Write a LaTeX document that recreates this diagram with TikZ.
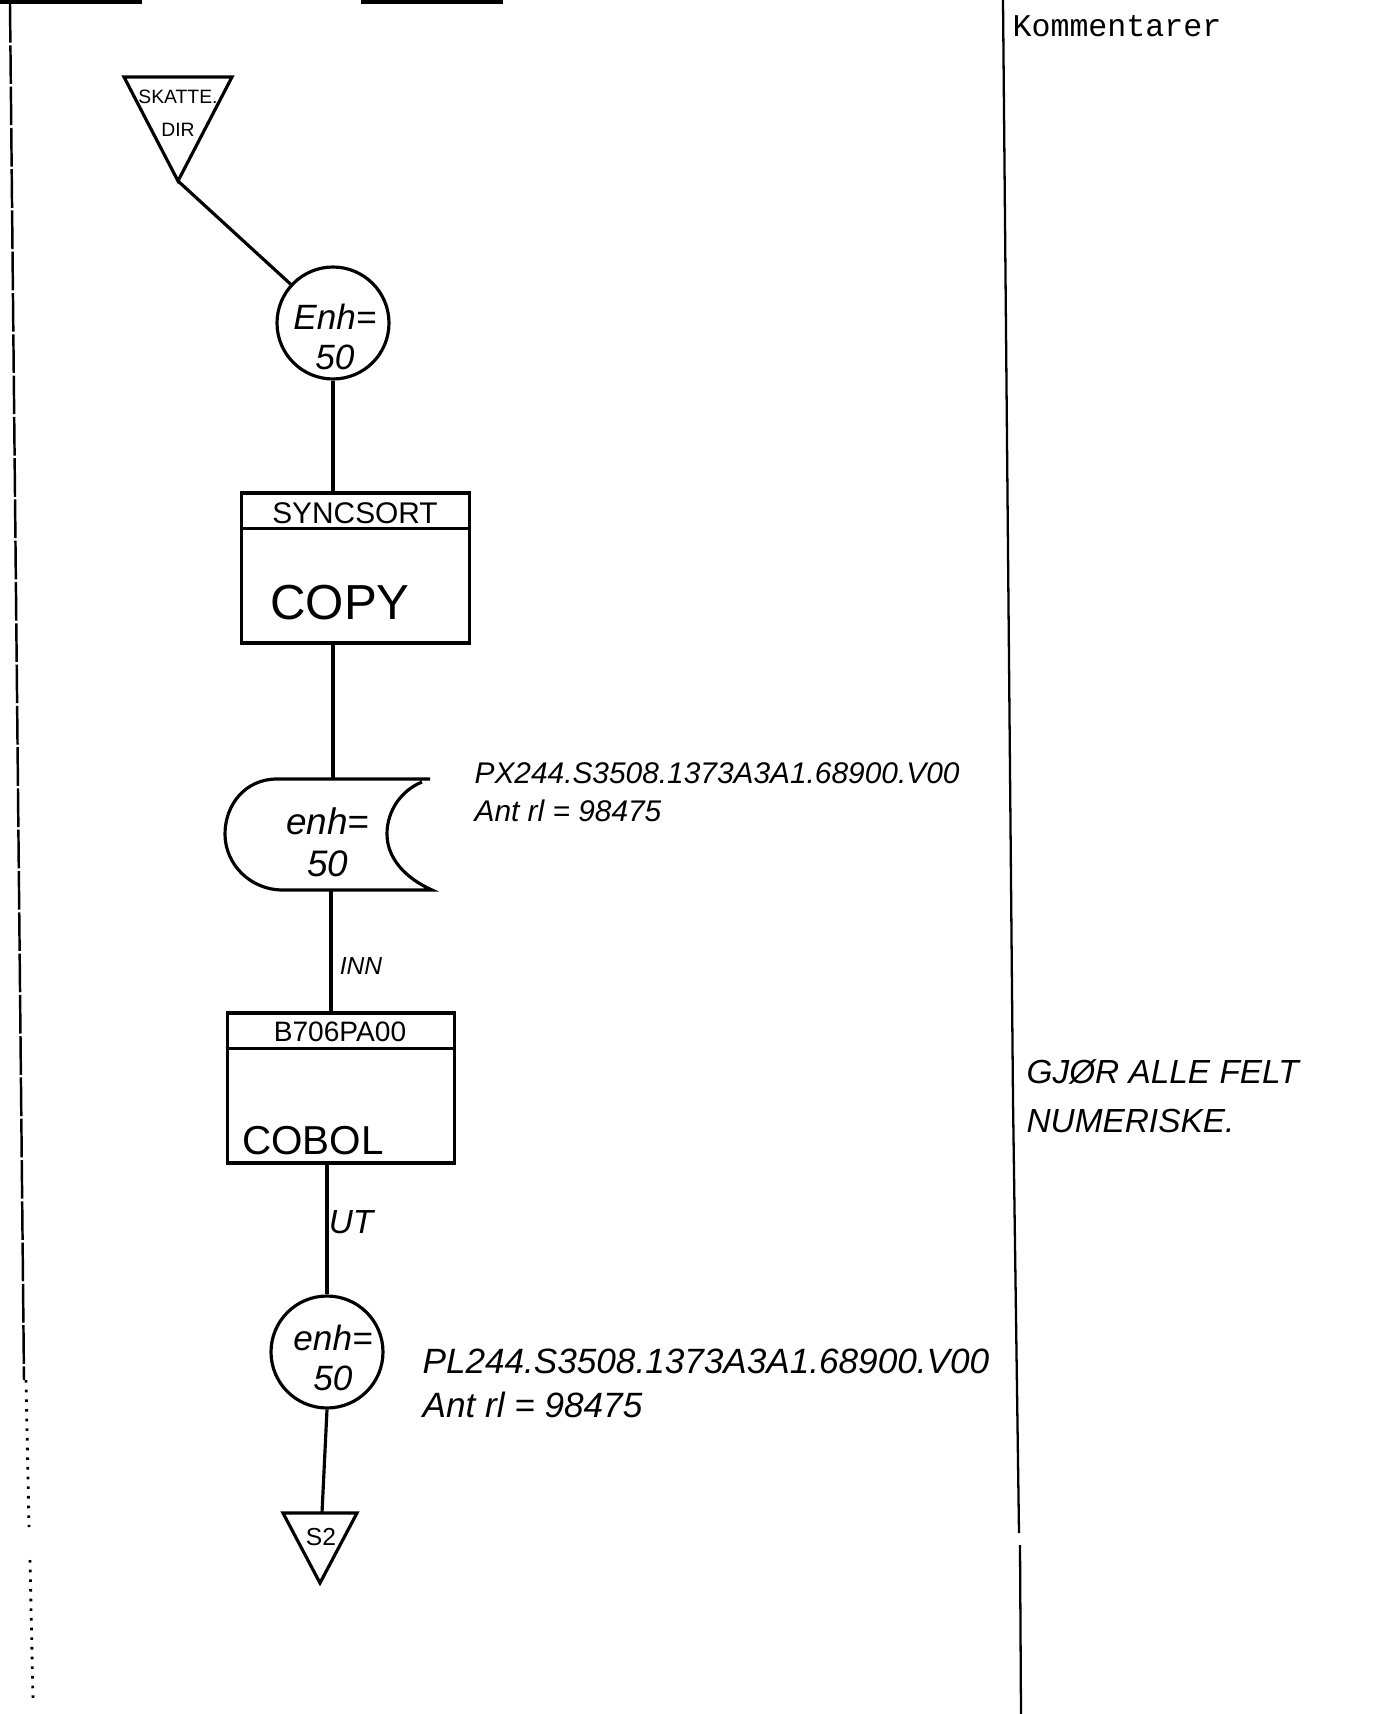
\documentclass[tikz,border=0pt]{standalone}
\usepackage{fontspec}
\setmainfont{Liberation Sans}
\setmonofont{Liberation Mono}
\begin{document}
\begin{tikzpicture}[
    x=0.02cm, y=-0.02cm,
    line width=1.8pt,
    hand/.style={font=\fontsize{20}{23}\selectfont\itshape, align=center, inner sep=0pt},
    store/.style={draw, circle, minimum size=2.24cm, inner sep=0pt},
    procbox/.style={draw, minimum width=4.55cm, minimum height=3cm, inner sep=0pt},
    head/.style={font=\fontsize{16}{18}\selectfont, inner sep=0pt},
    fname/.style={font=\itshape, align=left, anchor=west, inner sep=0pt}
  ]
    \useasboundingbox (0,0) rectangle (1395,1714);

    \draw[line width=2pt] (0,2) -- (142,2) (361,2) -- (503,2);
    \draw[line width=1.4pt, dash pattern=on 22pt off 1.5pt] (10,4) -- (24,1380);
    \draw[line width=1.6pt, dash pattern=on 1.5pt off 4pt]
      (26,1380) -- (29,1527) (30,1560) -- (33,1700);
    \draw[line width=1.3pt] (1003,0) -- (1013,1100) -- (1019,1533);
    \draw[line width=1.3pt] (1020,1545) -- (1021,1714);
    \node[font=\ttfamily\fontsize{18}{20}\selectfont, anchor=west, inner sep=0pt]
      (komm) at (1011,26) {Kommentarer};

    \coordinate (skat-l) at (124,77);
    \coordinate (skat-r) at (232,77);
    \coordinate (skat-apex) at (178,181);
    \draw (skat-l) -- (skat-r) -- (skat-apex) -- cycle;
    \node[font=\fontsize{11}{19}\selectfont, align=center, inner sep=0pt]
      (skat) at (178,113) {SKATTE.\\DIR};

    \node[store] (disk) at (333,323) {};
    \node[hand] (disklab) at (335,337) {Enh=\\50};
    \draw (skat-apex) -- (disk);

    \node[procbox] (sort) at (355.5,568) {};
    \draw (sort.north west) ++(0,37) -- ++(227.5,0);
    \node[head, font=\fontsize{17}{19}\selectfont] (sorthead) at (355,513) {SYNCSORT};
    \node[font=\fontsize{28}{30}\selectfont, inner sep=0pt] (sortbody) at (340,603) {COPY};
    \draw (disk.south) -- (disk.south |- sort.north);

    \coordinate (tape-top) at (333,779);
    \coordinate (tape-bot) at (331,890);
    \draw (430,779) -- (277,779) .. controls (245,779) and (225,805) .. (225,834)
      .. controls (225,864) and (250,890) .. (283,890) -- (432,890)
      .. controls (405,878) and (387,858) .. (387,834)
      .. controls (387,810) and (402,790) .. (422,782);
    \node[hand, font=\fontsize{21}{24}\selectfont\itshape] (tapelab) at (328,842) {enh=\\50};
    \draw (tape-top |- sort.south) -- (tape-top);
    \node[fname, font=\fontsize{17}{21.5}\selectfont\itshape] (file1) at (473,792)
      {PX244.S3508.1373A3A1.68900.V00\\Ant rl = 98475};

    \node[procbox] (cobol) at (341,1088) {};
    \draw (cobol.north west) ++(0,37) -- ++(228,0);
    \node[head] (cobolhead) at (340,1032) {B706PA00};
    \node[font=\fontsize{23}{25}\selectfont, inner sep=0pt] (cobolbody) at (313,1141) {COBOL};
    \draw (tape-bot) -- (tape-bot |- cobol.north);
    \node[hand, font=\fontsize{14}{16}\selectfont\itshape] (inn) at (361,966) {INN};

    \node[store] (outdisk) at (327,1352) {};
    \node[hand] (outlab) at (333,1358) {enh=\\50};
    \draw (outdisk.north |- cobol.south) -- (outdisk.north);
    \node[hand, font=\fontsize{19}{21}\selectfont\itshape] (ut) at (351,1222) {UT};
    \node[fname, font=\fontsize{20}{25}\selectfont\itshape] (file2) at (421,1383)
      {PL244.S3508.1373A3A1.68900.V00\\Ant rl = 98475};

    \coordinate (stwo-l) at (283,1513);
    \coordinate (stwo-r) at (357,1513);
    \coordinate (stwo-apex) at (320,1583);
    \coordinate (stwo-top) at (322,1513);
    \draw (stwo-l) -- (stwo-r) -- (stwo-apex) -- cycle;
    \node[font=\fontsize{14}{16}\selectfont, inner sep=0pt] (stwo) at (321,1537) {S2};
    \draw (outdisk.south) -- (stwo-top);

    \node[hand, font=\fontsize{19}{28}\selectfont\itshape, align=left, anchor=west]
      (note) at (1025,1096) {GJØR ALLE FELT\\NUMERISKE.};
  \end{tikzpicture}
\end{document}
